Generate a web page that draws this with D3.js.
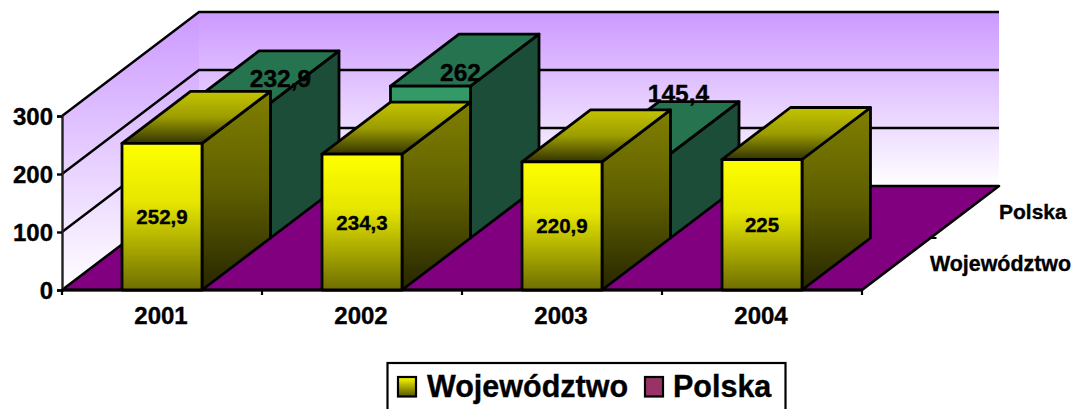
<!DOCTYPE html>
<html><head><meta charset="utf-8">
<script src="https://cdn.jsdelivr.net/npm/d3@7"></script>
<style>html,body{margin:0;background:#fff}svg{display:block}text{font-family:"Liberation Sans",Arial,sans-serif;font-weight:bold;fill:#000;stroke:#000;stroke-width:.35px}</style>
</head><body><svg id="c" width="1074" height="409"></svg>
<script>
const years = ["2001","2002","2003","2004"];
const seriesNames = ["Województwo","Polska"];
const wojewodztwo = [252.9,234.3,220.9,225];
const polska = [232.9,262,145.4,0];
const wojLabels = ["252,9","234,3","220,9","225"];
const polskaLabels = ["232,9","262","145,4",""];
const yTicks = [0,100,200,300];
const polskaLabelShift = [[50,-16],[30,-5],[48,-52],[0,0]];

const svg = d3.select("#c");
const defs = svg.append("defs");
function grad(id, stops){
  const g = defs.append("linearGradient").attr("id",id).attr("x1",0).attr("y1",0).attr("x2",0).attr("y2",1);
  stops.forEach(s=>g.append("stop").attr("offset",s[0]).attr("stop-color",s[1]));
}
grad("wall",[[0,"#cc99ff"],[1,"#ffffff"]]);
grad("wallLeft",[[0,"#cc99ff"],[1,"#ffffff"]]);
grad("wFront",[[0,"#ffff00"],[0.4,"#e6e600"],[1,"#6e6e00"]]);
grad("wTop",[[0,"#c4c400"],[0.5,"#9c9c00"],[1,"#333300"]]);
grad("wSide",[[0,"#808000"],[0.5,"#5e5e00"],[1,"#262600"]]);
grad("key",[[0,"#ffff00"],[1,"#555500"]]);

const x0 = 62, baseY = 290, depthX = 137, depthY = 104;
const x = d3.scaleBand().domain(years).range([x0, x0+800]).paddingInner(0).paddingOuter(0);
const barW = x.bandwidth()/2.5;
const y = d3.scaleLinear().domain([0,300]).range([baseY, baseY-174]);
const depth = d3.scaleBand().domain(seriesNames).range([0,1]);
const P = (px,py,d)=>[px+d*depthX, py-d*depthY];
const line = d3.line().curve(d3.curveLinearClosed);
const open = d3.line();
const xEnd = x.range()[1];

// walls
svg.append("path").attr("d",line([P(x0,y(300),1),P(xEnd,y(300),1),P(xEnd,y(0),1),P(x0,y(0),1)])).attr("fill","url(#wall)");
svg.append("path").attr("d",line([P(x0,y(300),0),P(x0,y(300),1),P(x0,y(0),1),P(x0,y(0),0)])).attr("fill","url(#wallLeft)");
// floor
svg.append("path").attr("d",line([P(x0,y(0),0),P(xEnd,y(0),0),P(xEnd,y(0),1),P(x0,y(0),1)])).attr("fill","#800080").attr("stroke","#000").attr("stroke-width",2.6).attr("stroke-linejoin","round");
// grid
yTicks.filter(t=>t>0).forEach(t=>{
  svg.append("path").attr("d",open([P(x0,y(t),0),P(x0,y(t),1),P(xEnd,y(t),1)])).attr("fill","none").attr("stroke","#000").attr("stroke-width",2.4);
});
// axes
const yAxis = svg.append("g").attr("transform",`translate(${x0},0)`).call(d3.axisLeft(y).tickValues(yTicks).tickSize(5).tickPadding(4).tickFormat(d3.format("d")));
yAxis.select(".domain").attr("stroke","#222").attr("stroke-width",2.4);
yAxis.selectAll("line").attr("stroke","#000").attr("stroke-width",2.4);
yAxis.selectAll("text").attr("font-size",24).attr("font-family",null).attr("dy","0.34em");
const xAxis = svg.append("g").attr("transform",`translate(-1,${baseY})`).call(d3.axisBottom(x).tickSize(0).tickPadding(17));
xAxis.select(".domain").remove();
xAxis.selectAll("text").attr("font-size",24).attr("font-family",null).attr("dy","0.71em");
[...years.map(v=>x(v)),xEnd].forEach(v=>{
  svg.append("line").attr("x1",v).attr("x2",v).attr("y1",baseY).attr("y2",baseY+5).attr("stroke","#000").attr("stroke-width",2.2);
});
svg.append("line").attr("x1",x0).attr("x2",xEnd).attr("y1",baseY).attr("y2",baseY).attr("stroke","#000").attr("stroke-width",3);
// floor-edge tick between series
{const m=P(xEnd,y(0),depth(seriesNames[1]));
 svg.append("line").attr("x1",m[0]).attr("x2",m[0]+6).attr("y1",m[1]).attr("y2",m[1]).attr("stroke","#000").attr("stroke-width",2);}

function bar(cat,val,name,fills){
  const left = x(cat)+(x.bandwidth()-barW)/2, right = left+barW;
  const d0 = depth(name), d1 = d0+depth.bandwidth();
  const t = y(val), b = y(0);
  const g = svg.append("g").attr("stroke","#000").attr("stroke-width",2.8).attr("stroke-linejoin","round");
  g.append("path").attr("d",line([P(right,b,d0),P(right,t,d0),P(right,t,d1),P(right,b,d1)])).attr("fill",fills.side);
  g.append("path").attr("d",line([P(left,t,d0),P(right,t,d0),P(right,t,d1),P(left,t,d1)])).attr("fill",fills.top);
  g.append("path").attr("d",line([P(left,b,d0),P(right,b,d0),P(right,t,d0),P(left,t,d0)])).attr("fill",fills.front);
}
const polFill = {side:"#1c4d38",top:"#267350",front:"#339966"};
const wojFill = {side:"url(#wSide)",top:"url(#wTop)",front:"url(#wFront)"};
years.forEach((c,i)=>{ if(polska[i]>0) bar(c,polska[i],seriesNames[1],polFill); });
years.forEach((c,i)=>{ bar(c,wojewodztwo[i],seriesNames[0],wojFill); });

// data labels
years.forEach((c,i)=>{
  const cx = x(c)+x.bandwidth()/2;
  svg.append("text").attr("x",cx).attr("y",(y(wojewodztwo[i])+y(0))/2+7.5).attr("text-anchor","middle").attr("font-size",20.5).text(wojLabels[i]);
  if(polska[i]>0){
    const p = P(cx,y(polska[i]),depth(seriesNames[1]));
    svg.append("text").attr("x",p[0]+polskaLabelShift[i][0]).attr("y",p[1]+polskaLabelShift[i][1]).attr("text-anchor","middle").attr("font-size",24.5).text(polskaLabels[i]);
  }
});
// depth labels
svg.append("text").attr("x",999).attr("y",219).attr("font-size",21).text(seriesNames[1]);
svg.append("text").attr("x",930).attr("y",271).attr("font-size",21.4).text(seriesNames[0]);

// legend
svg.append("rect").attr("x",387.5).attr("y",363).attr("width",398).attr("height",60).attr("fill","#fff").attr("stroke","#000").attr("stroke-width",2.2);
[[398,"url(#key)",427],[645,"#993366",673]].forEach((k,i)=>{
  svg.append("rect").attr("x",k[0]).attr("y",377).attr("width",18).attr("height",19.5).attr("fill",k[1]).attr("stroke","#000").attr("stroke-width",2.2);
  svg.append("text").attr("x",k[2]).attr("y",397).attr("font-size",30.5).text(seriesNames[i]);
});
</script></body></html>
